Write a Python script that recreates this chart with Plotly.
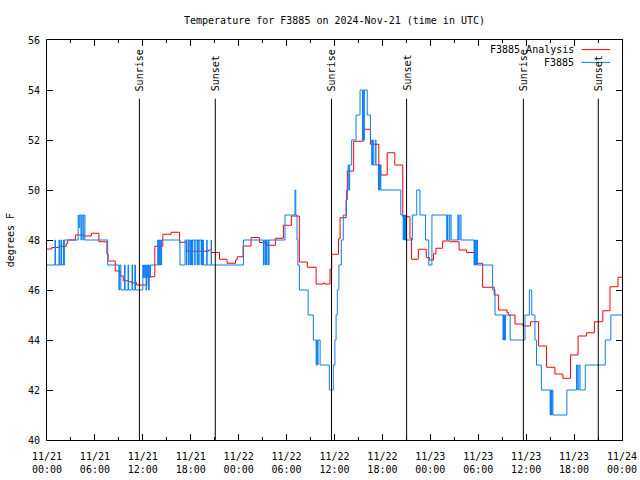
import plotly.graph_objects as go

# ---------------- data (hours since 2024-11-21 00:00 UTC) ----------------
analysis_hours = [0.0, 0.6, 1.55, 2.4, 2.6, 3.55, 4.6, 5.55, 6.5, 7.5, 7.65, 8.55, 9.15, 9.55,
                  10.2, 10.6, 11.2, 12.5, 13.5, 14.5, 15.55, 16.6, 17.5, 20.2, 20.6, 21.6,
                  22.55, 23.6, 23.8, 24.55, 25.55, 26.6, 27.55, 28.6, 29.6, 30.6, 31.6, 32.6,
                  33.7, 34.6, 34.8, 35.44, 35.65, 36.5, 36.7, 37.45, 37.6, 38.4, 39.6, 40.5,
                  41.55, 41.8, 42.6, 43.55, 44.55, 45.45, 45.65, 46.5, 47.5, 47.9, 48.4, 48.7,
                  49.55, 50.5, 51.6, 52.55, 53.7, 54.55, 56.0, 56.55, 57.6, 57.8, 58.6, 59.6,
                  60.55, 61.55, 62.55, 63.6, 64.6, 65.55, 66.5, 67.55, 68.55, 69.6, 70.5, 71.5,
                  72.0]
analysis_temps = [47.64, 47.7, 47.75, 47.85, 48.0, 48.2, 48.16, 48.27, 47.93, 47.45, 47.16, 46.76, 46.56, 46.37,
                  46.33, 46.29, 46.2, 46.53, 47.75, 48.23, 48.31, 47.91, 47.55, 47.6, 47.5, 47.23,
                  47.07, 47.2, 47.33, 47.76, 48.1, 47.9, 47.79, 48.07, 48.59, 48.96, 47.12, 46.91,
                  46.24, 46.28, 46.24, 46.83, 47.43, 48.05, 48.89, 49.6, 50.76, 51.95, 52.43, 51.83,
                  51.0, 50.6, 51.49, 51.0, 48.93, 48.07, 47.23, 47.63, 47.3, 47.2, 47.45, 47.67,
                  47.96, 47.93, 47.6, 47.5, 47.07, 46.11, 45.8, 45.2, 45.1, 45.0, 44.64, 44.56,
                  44.73, 43.76, 42.91, 42.64, 42.47, 43.4, 44.16, 44.29, 44.73, 45.17, 46.13, 46.51,
                  46.51]

obs_hours = [0.0, 1.0, 1.07, 1.5, 1.58, 1.75, 1.82, 2.05, 2.1, 2.17,
             3.9, 4.0, 4.1, 4.25, 4.35, 4.5, 4.6, 4.75, 7.6,
             9.0, 9.1, 9.25, 9.7, 9.78, 10.15, 10.22, 10.65, 10.72, 11.0, 11.08,
             12.0, 12.08, 12.16, 12.24, 12.32, 12.4, 12.48, 12.56, 12.64, 12.72, 12.8, 12.88, 12.96,
             13.86, 13.94, 14.02, 14.1, 14.2, 14.28, 14.36, 16.65,
             17.28, 17.45, 17.5, 17.7, 17.75, 17.9, 17.95, 18.05, 18.1, 18.2, 18.25, 18.5,
             18.55, 18.8, 18.85, 19.0, 19.05, 19.3, 19.35, 19.45, 19.5, 19.6, 20.0, 20.05,
             20.55, 20.6, 24.6,
             27.1, 27.15, 27.3, 27.35, 27.5, 27.55, 27.75, 27.8, 29.8, 31.05, 31.15, 31.3, 31.42,
             31.6, 32.7, 33.35, 33.7, 33.78, 33.86, 33.94, 34.2, 35.35,
             35.85, 36.05, 36.2, 36.35, 36.55, 36.85, 37.1, 37.5, 37.7, 37.8, 37.9, 38.15, 38.7,
             39.2, 39.5, 39.58, 39.66, 39.74, 40.1, 40.5, 40.66, 40.76, 40.86, 41.1, 41.2,
             41.5, 41.56, 41.64, 41.72, 41.8, 44.3, 44.6, 44.65, 44.7, 44.75, 44.8, 44.85, 44.9,
             45.75, 46.3, 46.7, 47.4, 47.8, 48.2, 50.05, 50.15, 50.35, 50.45, 50.6, 51.45, 51.55,
             51.7, 51.85, 53.47, 53.53, 53.6, 53.68, 53.76, 53.84, 53.92, 55.8, 56.1,
             57.1, 57.16, 57.22, 57.28, 57.34, 57.4, 58.0, 59.85, 60.4, 60.7, 61.1, 61.3, 61.9,
             63.0, 63.05, 63.1, 63.15, 63.2, 63.25, 63.35, 65.1, 66.3, 66.45, 66.6, 66.75, 67.4,
             69.9, 70.6, 72.0]
obs_temps = [47, 48, 47, 48, 47, 48, 47, 48, 47, 48,
             49, 48.5, 49, 48, 49, 48, 49, 48, 47,
             46, 47, 46, 47, 46, 47, 46, 47, 46, 47, 46,
             47, 46.5, 47, 46.5, 47, 46, 47, 46.5, 47, 46, 47, 46.5, 47,
             48, 47, 48, 47, 48, 47, 48, 47,
             48, 47, 48, 47, 48, 47, 48, 47, 48, 47, 48, 47,
             48, 47, 48, 47, 48, 47, 48, 47, 48, 47, 48, 47,
             48, 47, 48,
             47, 48, 47, 48, 47, 48, 47, 48, 49, 50, 49, 48, 47,
             46, 45, 44, 43, 44, 43, 44, 43, 42,
             43, 44, 45, 46, 47, 48, 49, 50, 51, 50, 51, 52, 53,
             54, 52, 54, 52, 54, 53, 52, 51, 52, 51, 52, 51,
             50, 51, 50, 51, 50, 49, 48, 49, 48, 49, 48, 49, 48,
             49, 50, 49, 48, 47, 49, 48, 49, 48, 49, 48, 49, 48,
             49, 48, 47, 48, 47, 48, 47, 48, 47, 46, 45,
             44, 45, 44, 45, 44, 45, 44, 45, 46, 45, 44, 43, 42,
             41, 42, 41, 42, 41, 42, 41, 42, 43, 42, 43, 42, 43,
             44, 45, 45]

sun_hours = [11.57, 21.07, 35.62, 45.03, 59.65, 69.03]
sun_labels = ["Sunrise", "Sunset", "Sunrise", "Sunset", "Sunrise", "Sunset"]

tick_hours = [0, 6, 12, 18, 24, 30, 36, 42, 48, 54, 60, 66, 72]
tick_labels = ["11/21<br>00:00", "11/21<br>06:00", "11/21<br>12:00", "11/21<br>18:00",
               "11/22<br>00:00", "11/22<br>06:00", "11/22<br>12:00", "11/22<br>18:00",
               "11/23<br>00:00", "11/23<br>06:00", "11/23<br>12:00", "11/23<br>18:00",
               "11/24<br>00:00"]

RED = "#ff0000"
BLUE = "#0a7ef0"
FONT = "DejaVu Sans Mono"

fig = go.Figure()
fig.add_trace(go.Scatter(x=analysis_hours, y=analysis_temps, mode="lines",
                         line=dict(color=RED, width=1, shape="hv"),
                         name="F3885 Analysis", showlegend=False, hoverinfo="skip"))
fig.add_trace(go.Scatter(x=obs_hours, y=obs_temps, mode="lines",
                         line=dict(color=BLUE, width=1, shape="hv"),
                         name="F3885", showlegend=False, hoverinfo="skip"))

shapes = []
annotations = []
for h, lab in zip(sun_hours, sun_labels):
    shapes.append(dict(type="line", xref="x", yref="y", x0=h, x1=h, y0=40, y1=53.65,
                       line=dict(color="black", width=1), layer="above"))
    annotations.append(dict(x=h, y=53.88, xref="x", yref="y", text=lab, textangle=-90,
                            showarrow=False, xanchor="center", yanchor="bottom",
                            font=dict(family=FONT, size=10, color="black")))

# manual legend (text right-aligned, sample line on the right)
legend_rows = [("F3885 Analysis", RED, 0.976), ("F3885", BLUE, 0.944)]
for txt, col, yy in legend_rows:
    annotations.append(dict(x=0.92, y=yy, xref="paper", yref="paper", text=txt,
                            showarrow=False, xanchor="right", yanchor="middle",
                            font=dict(family=FONT, size=10, color="black")))
    shapes.append(dict(type="line", xref="paper", yref="paper", x0=0.9295, x1=0.9795,
                       y0=yy, y1=yy, line=dict(color=col, width=1)))

annotations.append(dict(x=-0.064, y=0.5, xref="paper", yref="paper", text="degrees F",
                        textangle=-90, showarrow=False, xanchor="center", yanchor="middle",
                        font=dict(family=FONT, size=10, color="black")))

fig.update_layout(
    width=640, height=480,
    margin=dict(l=47, r=18, t=40, b=40, pad=0, autoexpand=False),
    paper_bgcolor="white", plot_bgcolor="white",
    font=dict(family=FONT, size=10, color="black"),
    title=dict(text="Temperature for F3885 on 2024-Nov-21 (time in UTC)",
               x=0.5, xref="paper", xanchor="center",
               y=1 - 20 / 480, yref="container", yanchor="middle",
               font=dict(family=FONT, size=10, color="black")),
    shapes=shapes, annotations=annotations, showlegend=False,
)
fig.update_xaxes(range=[0, 72], tickmode="array", tickvals=tick_hours, ticktext=tick_labels,
                 automargin=False,
                 showgrid=False, zeroline=False, showline=True, linecolor="black", linewidth=1,
                 mirror="ticks", ticks="inside", ticklen=6, tickcolor="black", tickwidth=1,
                 ticklabelstandoff=7,
                 minor=dict(dtick=3, tick0=0, ticks="inside", ticklen=3, tickcolor="black",
                            showgrid=False),
                 tickfont=dict(family=FONT, size=10, color="black"))
fig.update_yaxes(range=[40, 56], tickmode="linear", tick0=40, dtick=2,
                 automargin=False,
                 showgrid=False, zeroline=False, showline=True, linecolor="black", linewidth=1,
                 mirror="ticks", ticks="inside", ticklen=6, tickcolor="black", tickwidth=1,
                 ticklabelstandoff=4,
                 tickfont=dict(family=FONT, size=10, color="black"))

fig.write_html("out.html", config={"displayModeBar": False},
               post_script="document.body.style.margin='0';document.body.style.padding='0';")
